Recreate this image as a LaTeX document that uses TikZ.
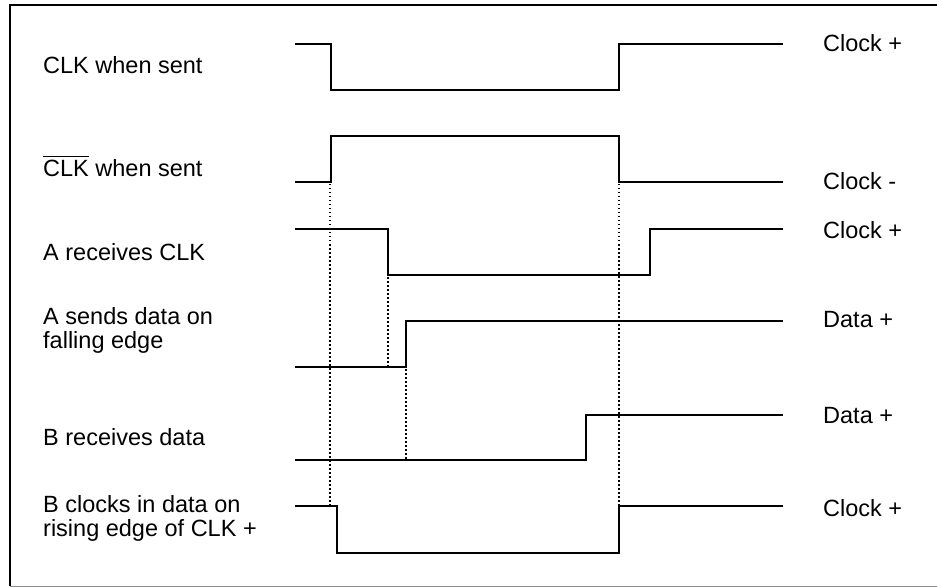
\documentclass[tikz,border=0pt]{standalone}
\usepackage{fontspec}
\setmainfont{Liberation Sans}
\begin{document}
\begin{tikzpicture}[x=1pt,y=-1pt,
  wave/.style={line width=1.4pt,line join=miter},
  guide/.style={line width=1.1pt,dash pattern=on 1.5pt off 2.5pt},
  lbl/.style={anchor=base west,inner sep=0pt,font=\fontsize{23.5}{23.5}\selectfont,align=left},
  frame/.style={line width=1.3pt}]
\useasboundingbox (0,0) rectangle (937,588);
% frame
\draw[frame] (937,5) -- (10,5) -- (10,586);
\draw[line width=0.8pt,black!45] (10,586) -- (937,586);
% left labels
\node[lbl] (l1) at (43,74) {CLK when sent};
\node[lbl] (l2) at (43,177) {$\overline{\hbox{CLK}\rule{0pt}{19.5pt}}$ when sent};
\node[lbl] (l3) at (43,261) {A receives CLK};
\node[lbl] (l4) at (43,348) {A sends data on\\falling edge};
\node[lbl] (l5) at (43,445) {B receives data};
\node[lbl] (l6) at (43,536) {B clocks in data on\\rising edge of CLK +};
% right labels
\node[lbl] (r1) at (823,52) {Clock +};
\node[lbl] (r2) at (823,190) {Clock -};
\node[lbl] (r3) at (823,238) {Clock +};
\node[lbl] (r4) at (823,327) {Data +};
\node[lbl] (r5) at (823,423) {Data +};
\node[lbl] (r6) at (823,516) {Clock +};
% waveforms
\draw[wave] (295,44) -- (331,44) -- (331,90) -- (619,90) -- (619,44) -- (783,44);
\draw[wave] (295,182) -- (331,182) -- (331,136) -- (619,136) -- (619,182) -- (783,182);
\draw[wave] (295,229) -- (388,229) -- (388,275) -- (650,275) -- (650,229) -- (783,229);
\draw[wave] (295,367) -- (406,367) -- (406,321) -- (783,321);
\draw[wave] (295,460) -- (586,460) -- (586,415) -- (783,415);
\draw[wave] (295,506) -- (337,506) -- (337,553) -- (619,553) -- (619,506) -- (783,506);
% guide coordinates
\coordinate (g1a) at (330,184);
\coordinate (g1b) at (330,505);
\coordinate (g2a) at (388,277);
\coordinate (g2b) at (388,366);
\coordinate (g3a) at (406,369);
\coordinate (g3b) at (406,459);
\coordinate (g4a) at (619,184);
\coordinate (g4b) at (619,505);
\draw[guide] (g1a) -- (g1b);
\draw[guide] (g2a) -- (g2b);
\draw[guide] (g3a) -- (g3b);
\draw[guide] (g4a) -- (g4b);
\end{tikzpicture}
\end{document}
